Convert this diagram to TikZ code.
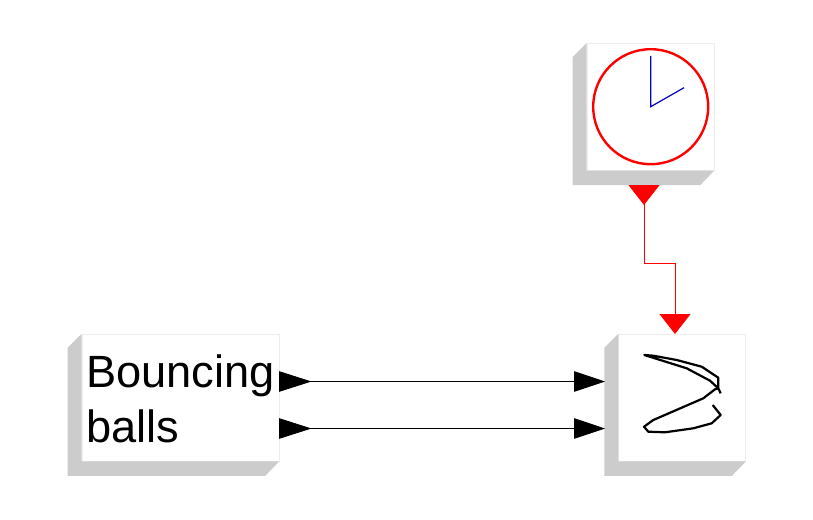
\documentclass[tikz,border=0pt]{standalone}
\usepackage{xcolor}
\usepackage{fontspec}
\setmainfont{Liberation Sans}
\usetikzlibrary{arrows.meta}
\definecolor{shadowgray}{gray}{0.8}
\definecolor{facegray}{gray}{0.93}
\definecolor{handblue}{rgb}{0,0,0.75}
\tikzset{
  block/.style={rectangle, draw=facegray, line width=0.6pt, fill=white, inner sep=0pt, minimum width=#1, minimum height=127pt},
  blockshadow/.style={fill=shadowgray, draw=none},
  blacklink/.style={line width=0.9pt, {Triangle[reversed,length=32.5pt,width=20.5pt]}-{Triangle[length=31pt,width=20.5pt]}},
  redlink/.style={line width=0.9pt, red, {Triangle[reversed,length=20pt,width=31pt]}-{Triangle[length=20pt,width=31pt]}},
}
\begin{document}
\begin{tikzpicture}[x=1pt, y=-1pt]
\useasboundingbox (0,0) rectangle (813,519);
% Bloques
\node[block=197pt] (balls) at (180.5,397.5) {};
\node[block=127pt] (clock) at (650.5,106.7) {};
\node[block=127pt] (scope) at (682.2,397.5) {};

% Sombras
\foreach \name in {balls, clock, scope}
  \fill[blockshadow] (\name.north west) -- ++(-14,14) -- ([shift={(-14,14.5)}]\name.south west)
    -- ([shift={(-14,14.5)}]\name.south east) -- (\name.south east) -- (\name.south west) -- cycle;

% Texto
\node[anchor=north west, inner sep=0pt, align=left, font=\fontsize{45.2}{54.5}\selectfont] (ballstext) at (86,355) {Bouncing\\balls};

% Reloj
\node[circle, draw=red, line width=2.4pt, inner sep=0pt, minimum size=115pt] (face) at (650.7,106.7) {};
\coordinate (hub) at (650.7,106.7);
\coordinate (hourtip) at (684,87.7);
\coordinate (minutetip) at (650.7,56);
\draw[handblue, line width=1.2pt] (minutetip) -- (hub) -- (hourtip);

% Trayectoria
\draw[line width=2.2pt, line join=round] (712.7,405) -- (720.7,415) -- (711.7,423.3) -- (693.3,428.3) -- (665,432.3)
  -- (648.3,431.7) -- (644,426.7) -- (653.3,420) -- (703.3,398.3) -- (715,389.3) -- (718.3,388.3)
  -- (710,380.7) -- (686.7,368.3) -- (644.3,355) -- (653.3,355.7) -- (676.7,360) -- (701.7,366.7)
  -- (718.3,377.7) -- (718.3,388.3) -- (720.7,393.3);

% Conexiones
\coordinate (ballsout1) at (279,381.5);
\coordinate (ballsout2) at (279,428.5);
\coordinate (scopein1) at (605,381.5);
\coordinate (scopein2) at (605,428.5);
\coordinate (clockout) at (644,185);
\coordinate (scopetop) at (675,334);
\coordinate (redbend) at (675,263);
\draw[blacklink] (ballsout1) -- (scopein1);
\draw[blacklink] (ballsout2) -- (scopein2);
\draw[redlink] (clockout) |- (redbend) -- (scopetop);
\end{tikzpicture}
\end{document}
